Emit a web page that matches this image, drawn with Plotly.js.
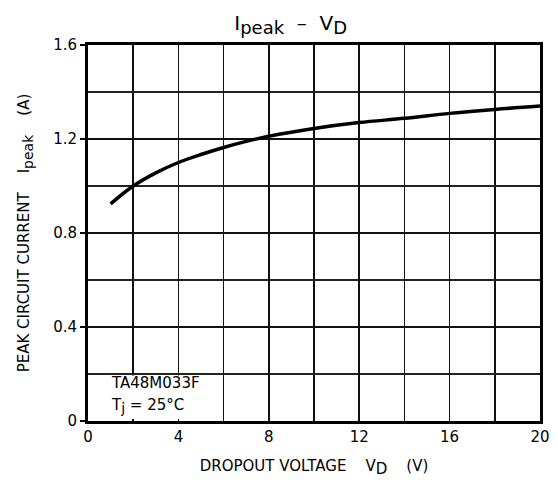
<!DOCTYPE html>
<html>
<head>
<meta charset="utf-8">
<script src="https://cdn.plot.ly/plotly-3.0.1.min.js"></script>
<style>html,body{margin:0;padding:0;background:#fff;}#chart{width:558px;height:484px;}</style>
</head>
<body>
<div id="chart"></div>
<script>
const dropoutVoltage = [1, 2, 3, 4, 5, 6, 7, 8, 10, 12, 14, 16, 18, 20];
const peakCurrent = [0.924, 1.0, 1.056, 1.10, 1.134, 1.164, 1.19, 1.212, 1.245, 1.27, 1.288, 1.309, 1.326, 1.34];
const xTickVals = [0, 4, 8, 12, 16, 20];
const xTickText = ['0', '4', '8', '12', '16', '20'];
const yTickVals = [0, 0.4, 0.8, 1.2, 1.6];
const yTickText = ['0', '0.4', '0.8', '1.2', '1.6'];
const noteLines = ['TA48M033F', 'T<sub><span style="font-size:14px">j</span></sub> = 25°C'];

const font = 'DejaVu Sans, Verdana, sans-serif';
const sub = (t, px) => '<sub><span style="font-size:' + px + 'px">' + t + '</span></sub>';

const trace = {
  x: dropoutVoltage,
  y: peakCurrent,
  mode: 'lines',
  line: {color: '#000', width: 3.5, shape: 'spline'},
  hoverinfo: 'skip'
};

const layout = {
  width: 558, height: 484,
  margin: {l: 88, r: 18, t: 45, b: 63},
  paper_bgcolor: '#fff', plot_bgcolor: '#fff',
  showlegend: false,
  font: {family: font, color: '#000', size: 15},
  title: {
    text: 'I' + sub('peak', 18) + '  –  V' + sub('D', 18),
    font: {family: font, size: 20, color: '#000'},
    x: 0.521, xanchor: 'center', y: 0.952, yanchor: 'middle'
  },
  xaxis: {
    range: [0, 20],
    tickvals: xTickVals, ticktext: xTickText,
    ticks: 'outside', ticklen: 0, tickcolor: '#000',
    showgrid: true, gridcolor: '#111', gridwidth: 1.5,
    minor: {dtick: 2, showgrid: true, gridcolor: '#111', gridwidth: 1.5, ticks: ''},
    showline: true, linecolor: '#000', linewidth: 3, mirror: true,
    zeroline: false,
    tickfont: {family: font, size: 15},
    title: {text: 'DROPOUT VOLTAGE    V' + sub('D', 15) + '    (V)', font: {family: font, size: 15}, standoff: 16}
  },
  yaxis: {
    range: [0, 1.6],
    tickvals: yTickVals, ticktext: yTickText,
    ticks: 'outside', ticklen: 5, tickcolor: '#000', tickwidth: 2,
    showgrid: true, gridcolor: '#111', gridwidth: 1.5,
    minor: {dtick: 0.2, showgrid: true, gridcolor: '#222', gridwidth: 1.5, ticks: ''},
    showline: true, linecolor: '#000', linewidth: 3, mirror: true,
    zeroline: false,
    tickfont: {family: font, size: 15},
    title: {text: 'PEAK CIRCUIT CURRENT    I' + sub('peak', 14) + '    (A)', font: {family: font, size: 15}, standoff: 20}
  },
  shapes: [
    {type: 'rect', xref: 'x', yref: 'y', x0: 0.08, x1: 5.0, y0: 0.008, y1: 0.194, fillcolor: '#fff', line: {width: 0}, layer: 'above'}
  ],
  annotations: [
    {xref: 'x', yref: 'y', x: 0.95, y: 0.163, xanchor: 'left', yanchor: 'middle', text: noteLines[0], showarrow: false, font: {family: font, size: 15}},
    {xref: 'x', yref: 'y', x: 0.95, y: 0.063, xanchor: 'left', yanchor: 'middle', text: noteLines[1], showarrow: false, font: {family: font, size: 15}}
  ]
};

Plotly.newPlot('chart', [trace], layout, {displayModeBar: false, staticPlot: true});
</script>
</body>
</html>
